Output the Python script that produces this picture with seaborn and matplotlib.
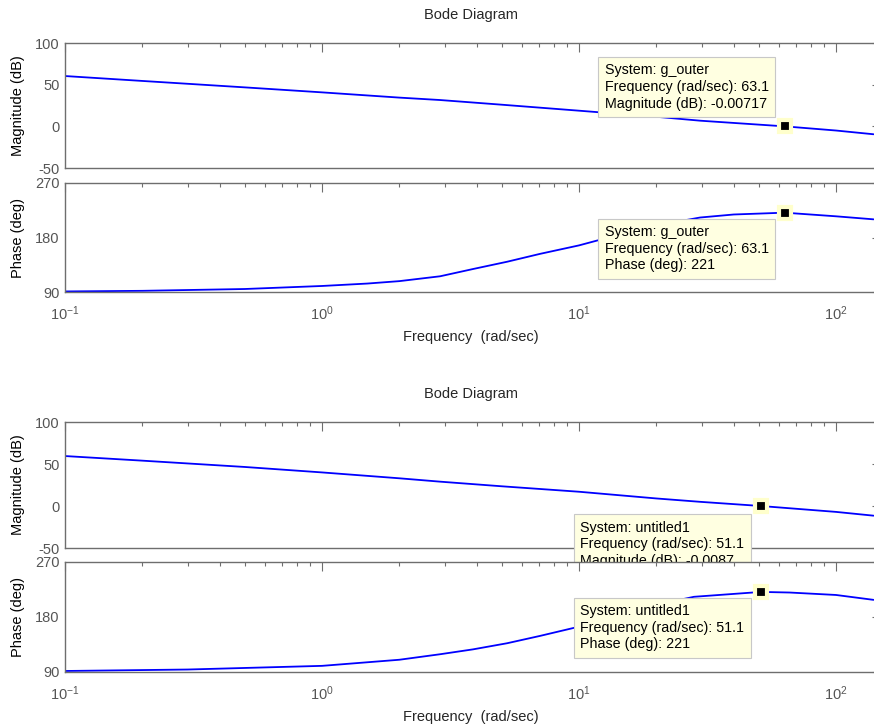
import matplotlib
matplotlib.use("Agg")
import matplotlib.pyplot as plt
import seaborn as sns
from matplotlib.ticker import LogLocator, FixedLocator, NullFormatter

# values
freq_mag_1 = [0.1, 0.2, 0.5, 1, 2, 2.88, 5, 10, 20, 29.6, 63.1, 100, 140]
mag_1 = [60.4, 54.5, 46.8, 40.8, 34.5, 31.6, 26.0, 18.8, 11.5, 6.8, 0.0, -5.0, -9.5]
freq_ph_1 = [0.1, 0.2, 0.5, 1, 1.5, 2, 2.88, 3.87, 5.25, 7.05, 10, 12, 20, 29.6, 40, 63.1, 100, 140]
phase_1 = [91, 92, 95, 100, 104, 108, 116, 128, 140, 153, 167, 176, 200, 213, 218, 221, 215, 210]

freq_mag_2 = [0.1, 0.2, 0.5, 1, 2, 2.88, 5, 10, 20, 29.6, 51.1, 100, 140]
mag_2 = [59.5, 54.0, 46.5, 40.0, 33.0, 29.0, 23.5, 17.0, 9.0, 5.0, 0.0, -7.0, -11.5]
freq_ph_2 = [0.1, 0.3, 1, 2, 2.88, 3.87, 5.25, 7.05, 9.3, 12, 20, 28, 51.1, 66, 100, 140]
phase_2 = [91.6, 94, 100, 110, 119, 127, 137, 149, 161, 172, 200, 213, 221, 220, 216, 208]

systems = ["g_outer", "untitled1"]
cross_freq = [63.1, 51.1]
cross_mag_txt = ["-0.00717", "-0.0087"]
cross_mag = [-0.00717, -0.0087]
cross_phase = [221, 221]

sns.set_style("white")
plt.rcParams['font.family'] = ['Liberation Sans', 'DejaVu Sans']
plt.rcParams['font.size'] = 10.5
plt.rcParams['axes.unicode_minus'] = False

GRAY = "#6e6e6e"
TIPFC = "#FFFFE1"
FS = 10.5


def style_axes(ax, yticks, ylim, ylabel, xlabels):
    ax.set_xscale("log")
    ax.set_xlim(0.1, 10 ** 2.156)
    ax.set_ylim(*ylim)
    ax.set_yticks(yticks)
    ax.xaxis.set_major_locator(FixedLocator([0.1, 1, 10, 100]))
    ax.xaxis.set_minor_locator(LogLocator(base=10, subs=range(2, 10)))
    ax.xaxis.set_minor_formatter(NullFormatter())
    ax.tick_params(which="both", direction="in", top=True, right=True,
                   color=GRAY, labelcolor="#555555", labelsize=FS, width=0.8)
    ax.tick_params(axis="x", which="major", length=6.5, pad=9)
    ax.tick_params(axis="x", which="minor", length=3)
    ax.tick_params(axis="y", which="major", length=3, pad=4)
    if not xlabels:
        ax.tick_params(axis="x", which="both", labelbottom=False)
    for s in ax.spines.values():
        s.set_visible(True)
        s.set_color(GRAY)
        s.set_linewidth(1.0)
    ax.set_ylabel(ylabel, fontsize=FS, color="black")
    ax.yaxis.set_label_coords(-0.049, 0.5)
    ax.set_facecolor("white")


def tooltip(ax, x, y, lines):
    ax.text(x, y, "\n".join(lines), ha="left", va="top", fontsize=10.3,
            linespacing=1.25, color="black", zorder=5, clip_on=False,
            bbox=dict(boxstyle="square,pad=0.45", fc=TIPFC, ec="#c8c8c8", lw=0.8))


def marker(ax, x, y):
    ax.plot([x], [y], marker="s", ms=8, mfc="black", mec="#FFFFCC", mew=3,
            ls="none", zorder=6, clip_on=False)


fig = plt.figure(figsize=(8.74, 7.27), dpi=100)
left, width = 0.0744, 0.928

rows = [
    (0.7689, 0.1719, 0.5983, 0.1500),
    (0.2462, 0.1733, 0.0757, 0.1513),
]
mags = [(freq_mag_1, mag_1), (freq_mag_2, mag_2)]
phases = [(freq_ph_1, phase_1), (freq_ph_2, phase_2)]
tip_pos = [
    # (mag text x, mag text y, phase text x, phase text y)
    (12.6, 76, 12.6, 200.7),
    (10.1, -17.5, 10.1, 201.3),
]

for i in range(2):
    mb, mh, pb, ph = rows[i]
    ax_m = fig.add_axes([left, mb, width, mh])
    ax_p = fig.add_axes([left, pb, width, ph])
    ax_p.set_zorder(ax_m.get_zorder() + 1)

    sns.lineplot(x=mags[i][0], y=mags[i][1], ax=ax_m, color="#0000ff", lw=1.3)
    sns.lineplot(x=phases[i][0], y=phases[i][1], ax=ax_p, color="#0000ff", lw=1.3)

    style_axes(ax_m, [-50, 0, 50, 100], (-50, 100), "Magnitude (dB)", False)
    style_axes(ax_p, [90, 180, 270], (90, 270), "Phase (deg)", True)

    ax_m.set_title("Bode Diagram", fontsize=FS, pad=17)
    ax_p.set_xlabel("Frequency  (rad/sec)", fontsize=FS, labelpad=5)

    mx, my, px, py = tip_pos[i]
    tooltip(ax_m, mx, my, ["System: " + systems[i],
                           "Frequency (rad/sec): %.1f" % cross_freq[i],
                           "Magnitude (dB): " + cross_mag_txt[i]])
    tooltip(ax_p, px, py, ["System: " + systems[i],
                           "Frequency (rad/sec): %.1f" % cross_freq[i],
                           "Phase (deg): %d" % cross_phase[i]])
    marker(ax_m, cross_freq[i], cross_mag[i])
    marker(ax_p, cross_freq[i], cross_phase[i])

fig.savefig("out.png", dpi=100)
